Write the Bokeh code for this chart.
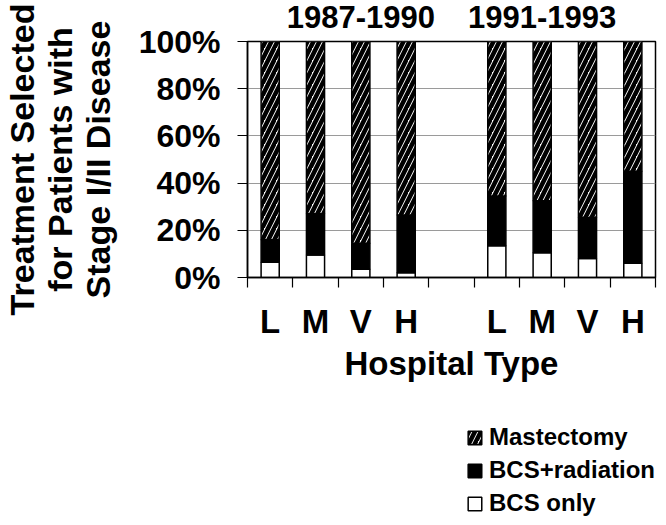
from bokeh.plotting import figure
from bokeh.layouts import column
from bokeh.models import (Range1d, FixedTicker, PrintfTickFormatter, LinearAxis,
                          Legend, LegendItem, ColumnDataSource)
from bokeh.embed import file_html
from bokeh.resources import INLINE

# ---- data ----
periods = ["1987-1990", "1991-1993"]
hospital_types = ["L", "M", "V", "H"]
bcs_only = [6.5, 9.5, 3.5, 2.0, 13.5, 10.5, 8.0, 6.0]
bcs_radiation = [9.5, 17.5, 11.0, 24.5, 21.0, 22.0, 17.5, 39.0]
mastectomy = [84.0, 73.0, 85.5, 73.5, 65.5, 67.5, 74.5, 55.0]
series_names = ["Mastectomy", "BCS+radiation", "BCS only"]
y_ticks = [0, 20, 40, 60, 80, 100]

FONT = "Liberation Sans"
n_types = len(hospital_types)
group_step = n_types + 1  # one empty slot between the periods

xs, labels = [], []
for g, per in enumerate(periods):
    for i, h in enumerate(hospital_types):
        xs.append(g * group_step + i + 0.5)
        labels.append(h)

b1_top = list(bcs_only)
b2_top = [a + b for a, b in zip(bcs_only, bcs_radiation)]
b3_top = [a + c for a, c in zip(b2_top, mastectomy)]
src = ColumnDataSource(dict(x=xs, b0=[0] * len(xs), b1=b1_top, b2=b2_top, b3=b3_top))

n_slots = len(periods) * group_step - 1

STYLE_ONLY = dict(fill_color="white", line_color="black", line_width=1.5)
STYLE_RAD = dict(fill_color="black", line_color="black", line_width=1.5)
STYLE_MAST = dict(fill_color="white", line_color="black", line_width=1.5,
                  hatch_pattern="/", hatch_color="black", hatch_weight=4.5,
                  hatch_scale=12)

p = figure(width=658, height=420, output_backend="svg", toolbar_location=None,
           x_range=Range1d(0, n_slots), y_range=Range1d(0, 100),
           min_border_left=247, min_border_right=3, min_border_top=41,
           min_border_bottom=143)
p.background_fill_color = "white"
p.border_fill_color = "white"
p.outline_line_color = "black"
p.outline_line_width = 1.5

W = 0.4
p.vbar(x="x", bottom="b0", top="b1", width=W, source=src, **STYLE_ONLY)
p.vbar(x="x", bottom="b1", top="b2", width=W, source=src, **STYLE_RAD)
p.vbar(x="x", bottom="b2", top="b3", width=W, source=src, **STYLE_MAST)

# grid
p.xgrid.visible = False
p.ygrid.ticker = FixedTicker(ticks=y_ticks)
p.ygrid.grid_line_color = "#9a9a9a"
p.ygrid.grid_line_width = 1.2

# y axis
ya = p.yaxis[0]
ya.ticker = FixedTicker(ticks=y_ticks)
ya.formatter = PrintfTickFormatter(format="%d%%")
ya.major_tick_in = 0
ya.major_tick_out = 10
ya.minor_tick_line_color = None
ya.major_label_standoff = 17
ya.major_label_text_font = FONT
ya.major_label_text_font_style = "bold"
ya.major_label_text_font_size = "32px"
ya.major_label_text_color = "black"
ya.axis_line_width = 1.5
ya.major_tick_line_width = 1.2
ya.axis_label = "Treatment Selected\nfor Patients with\nStage I/II Disease"
ya.axis_label_text_font = FONT
ya.axis_label_text_font_style = "bold"
ya.axis_label_text_font_size = "34px"
ya.axis_label_text_line_height = 0.99
ya.axis_label_text_color = "black"
ya.axis_label_standoff = 19

# x axis
xa = p.xaxis[0]
boundaries = list(range(0, n_slots + 1))
xa.ticker = FixedTicker(ticks=xs, minor_ticks=boundaries)
xa.major_label_overrides = {x: l for x, l in zip(xs, labels)}
xa.major_tick_in = 0
xa.major_tick_out = 0
xa.minor_tick_in = 0
xa.minor_tick_out = 10
xa.minor_tick_line_color = "black"
xa.minor_tick_line_width = 1.2
xa.axis_line_width = 1.5
xa.major_label_standoff = 15
xa.major_label_text_font = FONT
xa.major_label_text_font_style = "bold"
xa.major_label_text_font_size = "33px"
xa.major_label_text_color = "black"
xa.axis_label = "Hospital Type"
xa.axis_label_text_font = FONT
xa.axis_label_text_font_style = "bold"
xa.axis_label_text_font_size = "33px"
xa.axis_label_text_color = "black"
xa.axis_label_standoff = 2

# period titles on a top axis
period_pos = [xs[2], xs[n_types + 1]]
top = LinearAxis(ticker=FixedTicker(ticks=period_pos, minor_ticks=[]),
                 major_label_overrides={x: t for x, t in zip(period_pos, periods)},
                 axis_line_color=None, major_tick_line_color=None,
                 minor_tick_line_color=None, major_tick_out=0, major_tick_in=0,
                 major_label_standoff=14,
                 major_label_text_font=FONT, major_label_text_font_style="bold",
                 major_label_text_font_size="31px", major_label_text_color="black")
p.add_layout(top, "above")

# legend in its own strip below the chart (hidden copies of the bar layers)
LW, LH = 658, 97
lf = figure(width=LW, height=LH, output_backend="svg", toolbar_location=None,
            x_range=Range1d(0, n_slots), y_range=Range1d(0, 100),
            x_axis_location=None, y_axis_location=None,
            min_border_left=0, min_border_right=0, min_border_top=0,
            min_border_bottom=0)
lf.outline_line_color = None
lf.xgrid.visible = False
lf.ygrid.visible = False
l_mast = lf.vbar(x="x", bottom="b2", top="b3", width=W, source=src, **STYLE_MAST)
l_rad = lf.vbar(x="x", bottom="b1", top="b2", width=W, source=src, **STYLE_RAD)
l_only = lf.vbar(x="x", bottom="b0", top="b1", width=W, source=src, **STYLE_ONLY)
for r in (l_mast, l_rad, l_only):
    r.visible = False
legend = Legend(items=[LegendItem(label=series_names[0], renderers=[l_mast]),
                       LegendItem(label=series_names[1], renderers=[l_rad]),
                       LegendItem(label=series_names[2], renderers=[l_only])],
                location="bottom_right", orientation="vertical",
                glyph_width=17, glyph_height=17, label_height=27,
                spacing=5, padding=0, margin=0, label_standoff=6,
                label_text_font=FONT, label_text_font_style="bold",
                label_text_font_size="24px", label_text_color="black",
                border_line_alpha=0, background_fill_alpha=0,
                inactive_fill_alpha=0)
lf.add_layout(legend)

open("out.html", "w").write(file_html(column(p, lf, spacing=0), INLINE))
